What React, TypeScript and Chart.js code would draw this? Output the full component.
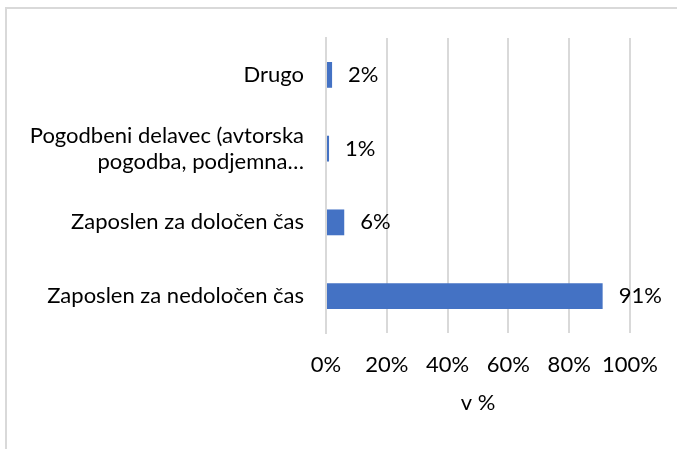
import React, { useEffect, useRef } from "react";
import { Chart, registerables } from "chart.js";

Chart.register(...registerables);

const categories: (string | string[])[] = [
  "Drugo",
  ["Pogodbeni delavec (avtorska", "pogodba, podjemna…"],
  "Zaposlen za določen čas",
  "Zaposlen za nedoločen čas",
];
const values: number[] = [2, 1, 6, 91];
const xTicks: number[] = [0, 20, 40, 60, 80, 100];
const axisTitle = "v %";

const FONT = "Lato";
const SIZE = 22;
const BAR = "#4472C4";

const borderPlugin = {
  id: "outerBorder",
  beforeDraw(chart: any) {
    const ctx = chart.ctx;
    ctx.save();
    ctx.strokeStyle = "#d9d9d9";
    ctx.lineWidth = 2;
    ctx.beginPath();
    ctx.moveTo(6, chart.height + 10);
    ctx.lineTo(6, 8);
    ctx.lineTo(chart.width + 10, 8);
    ctx.stroke();
    ctx.restore();
  },
};

const labelPlugin = {
  id: "barLabels",
  afterDatasetsDraw(chart: any) {
    const ctx = chart.ctx;
    const meta = chart.getDatasetMeta(0);
    ctx.save();
    ctx.font = `${SIZE}px ${FONT}`;
    ctx.fillStyle = "#000";
    ctx.textAlign = "left";
    ctx.textBaseline = "middle";
    meta.data.forEach((bar: any, i: number) => {
      ctx.fillText(values[i] + "%", bar.x + 16, bar.y);
    });
    ctx.restore();
  },
};

export default function App() {
  const ref = useRef<HTMLCanvasElement>(null);
  useEffect(() => {
    if (!ref.current) return;
    const chart = new Chart(ref.current, {
      type: "bar",
      data: {
        labels: categories,
        datasets: [
          {
            data: values,
            backgroundColor: BAR,
            barPercentage: 0.35,
            categoryPercentage: 1,
          },
        ],
      },
      options: {
        indexAxis: "y",
        animation: false,
        responsive: false,
        maintainAspectRatio: false,
        layout: { padding: { left: 0, right: 47, top: 38, bottom: 0 } },
        plugins: { legend: { display: false }, tooltip: { enabled: false } },
        scales: {
          x: {
            min: 0,
            max: 100,
            afterBuildTicks(scale: any) {
              scale.ticks = xTicks.map((v) => ({ value: v }));
            },
            afterFit(scale: any) {
              scale.height = 116;
            },
            grid: { color: "#d9d9d9", lineWidth: 2, drawTicks: false },
            border: { display: false },
            ticks: {
              padding: 19,
              color: "#000",
              maxRotation: 0,
              minRotation: 0,
              autoSkip: false,
              font: { family: FONT, size: SIZE },
              callback: (v: any) => v + "%",
            },
            title: {
              display: true,
              text: axisTitle,
              color: "#000",
              font: { family: FONT, size: SIZE },
              padding: { top: 0, bottom: 33 },
            },
          },
          y: {
            afterFit(scale: any) {
              scale.width = 326;
            },
            grid: { display: false, drawTicks: false },
            border: { display: true, color: "#d9d9d9", width: 2 },
            ticks: {
              padding: 22,
              color: "#000",
              font: { family: FONT, size: SIZE },
            },
          },
        },
      },
      plugins: [borderPlugin, labelPlugin],
    });
    return () => chart.destroy();
  }, []);
  return (
    <div style={{ position: "fixed", left: 0, top: 0, width: 677, height: 449, background: "#fff" }}>
      <canvas ref={ref} width={677} height={449} />
    </div>
  );
}
